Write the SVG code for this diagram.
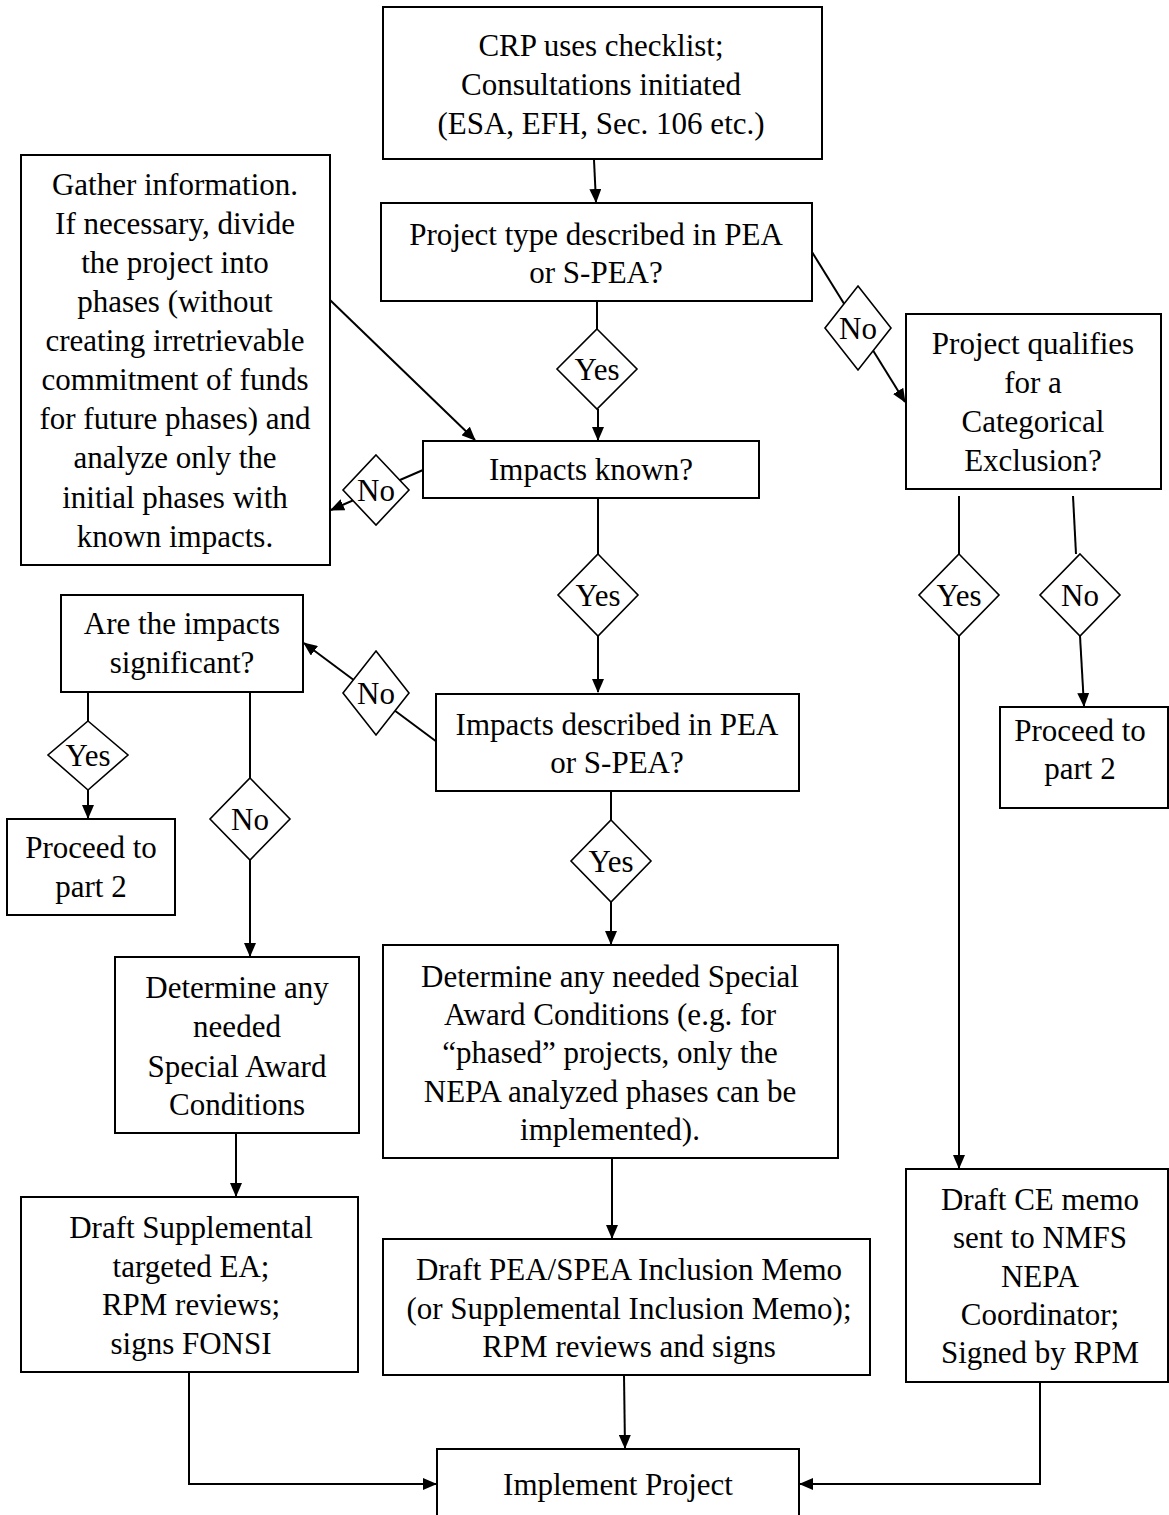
<svg xmlns="http://www.w3.org/2000/svg" width="1169" height="1515" viewBox="0 0 1169 1515">
<style>
.box{fill:#fff;stroke:#000;stroke-width:2}
.dia{fill:#fff;stroke:#000;stroke-width:1.6}
.ln{fill:none;stroke:#000;stroke-width:2}
text{font-family:"Liberation Serif","Times New Roman",serif;font-size:31px;fill:#000;text-anchor:middle}
</style>
<defs>
<marker id="ah" markerUnits="userSpaceOnUse" markerWidth="14" markerHeight="12" viewBox="0 0 14 12" refX="13" refY="6" orient="auto">
<path d="M0,0 L14,6 L0,12 z" fill="#000"/>
</marker>
</defs>
<rect width="1169" height="1515" fill="#fff"/>
<g id="connectors">
<line class="ln" x1="594" y1="160" x2="596" y2="202" marker-end="url(#ah)"/>
<line class="ln" x1="597" y1="301" x2="597" y2="330"/>
<line class="ln" x1="598" y1="409" x2="598" y2="440" marker-end="url(#ah)"/>
<line class="ln" x1="812" y1="252" x2="905" y2="402" marker-end="url(#ah)"/>
<line class="ln" x1="330" y1="300" x2="475" y2="440" marker-end="url(#ah)"/>
<line class="ln" x1="423" y1="470" x2="331" y2="510" marker-end="url(#ah)"/>
<line class="ln" x1="598" y1="498" x2="598" y2="554"/>
<line class="ln" x1="598" y1="636" x2="598" y2="692" marker-end="url(#ah)"/>
<line class="ln" x1="437" y1="742" x2="304" y2="643" marker-end="url(#ah)"/>
<line class="ln" x1="611" y1="791" x2="611" y2="820"/>
<line class="ln" x1="611" y1="902" x2="611" y2="944" marker-end="url(#ah)"/>
<line class="ln" x1="88" y1="692" x2="88" y2="721"/>
<line class="ln" x1="88" y1="790" x2="88" y2="818" marker-end="url(#ah)"/>
<line class="ln" x1="250" y1="692" x2="250" y2="778"/>
<line class="ln" x1="250" y1="860" x2="250" y2="956" marker-end="url(#ah)"/>
<line class="ln" x1="959" y1="496" x2="959" y2="554"/>
<line class="ln" x1="959" y1="636" x2="959" y2="1168" marker-end="url(#ah)"/>
<line class="ln" x1="1073" y1="496" x2="1076" y2="554"/>
<line class="ln" x1="1080" y1="636" x2="1084" y2="706" marker-end="url(#ah)"/>
<line class="ln" x1="236" y1="1133" x2="236" y2="1196" marker-end="url(#ah)"/>
<line class="ln" x1="612" y1="1158" x2="612" y2="1238" marker-end="url(#ah)"/>
<line class="ln" x1="624" y1="1375" x2="625" y2="1448" marker-end="url(#ah)"/>
<polyline class="ln" points="189,1372 189,1484 436,1484" marker-end="url(#ah)"/>
<polyline class="ln" points="1040,1382 1040,1484 800,1484" marker-end="url(#ah)"/>
</g>
<g id="n-crp">
<rect class="box" x="383" y="7" width="439" height="152"/>
<text x="601" y="56">CRP uses checklist;</text>
<text x="601" y="95">Consultations initiated</text>
<text x="601" y="134">(ESA, EFH, Sec. 106 etc.)</text>
</g>
<g id="n-ptype">
<rect class="box" x="381" y="203" width="431" height="98"/>
<text x="596" y="245">Project type described in PEA</text>
<text x="596" y="283">or S-PEA?</text>
</g>
<g id="d-yes1">
<polygon class="dia" points="597,329 637,369 597,409 557,369"/>
<text x="597" y="380">Yes</text>
</g>
<g id="d-no1">
<polygon class="dia" points="858,286 891,328 858,370 825,328"/>
<text x="858" y="339">No</text>
</g>
<g id="n-catex">
<rect class="box" x="906" y="314" width="255" height="175"/>
<text x="1033" y="354">Project qualifies</text>
<text x="1033" y="393">for a</text>
<text x="1033" y="432">Categorical</text>
<text x="1033" y="471">Exclusion?</text>
</g>
<g id="n-gather">
<rect class="box" x="21" y="155" width="309" height="410"/>
<text x="175" y="195">Gather information.</text>
<text x="175" y="234">If necessary, divide</text>
<text x="175" y="273">the project into</text>
<text x="175" y="312">phases (without</text>
<text x="175" y="351">creating irretrievable</text>
<text x="175" y="390">commitment of funds</text>
<text x="175" y="429">for future phases) and</text>
<text x="175" y="468">analyze only the</text>
<text x="175" y="508">initial phases with</text>
<text x="175" y="547">known impacts.</text>
</g>
<g id="n-known">
<rect class="box" x="423" y="441" width="336" height="57"/>
<text x="591" y="480">Impacts known?</text>
</g>
<g id="d-no2">
<polygon class="dia" points="376,455 409,490 376,525 343,490"/>
<text x="376" y="501">No</text>
</g>
<g id="d-yes2">
<polygon class="dia" points="598,554 638,595 598,636 558,595"/>
<text x="598" y="606">Yes</text>
</g>
<g id="d-yes3">
<polygon class="dia" points="959,554 999,595 959,636 919,595"/>
<text x="959" y="606">Yes</text>
</g>
<g id="d-no3">
<polygon class="dia" points="1080,554 1120,595 1080,636 1040,595"/>
<text x="1080" y="606">No</text>
</g>
<g id="n-sig">
<rect class="box" x="61" y="595" width="242" height="97"/>
<text x="182" y="634">Are the impacts</text>
<text x="182" y="673">significant?</text>
</g>
<g id="d-no4">
<polygon class="dia" points="376,651 409,693 376,735 343,693"/>
<text x="376" y="704">No</text>
</g>
<g id="n-desc">
<rect class="box" x="436" y="694" width="363" height="97"/>
<text x="617" y="735">Impacts described in PEA</text>
<text x="617" y="773">or S-PEA?</text>
</g>
<g id="n-part2r">
<rect class="box" x="1000" y="707" width="168" height="101"/>
<text x="1080" y="741">Proceed to</text>
<text x="1080" y="779">part 2</text>
</g>
<g id="d-yes4">
<polygon class="dia" points="88,721 128,755 88,790 48,755"/>
<text x="88" y="766">Yes</text>
</g>
<g id="d-no5">
<polygon class="dia" points="250,778 290,819 250,860 210,819"/>
<text x="250" y="830">No</text>
</g>
<g id="n-part2l">
<rect class="box" x="7" y="819" width="168" height="96"/>
<text x="91" y="858">Proceed to</text>
<text x="91" y="897">part 2</text>
</g>
<g id="d-yes5">
<polygon class="dia" points="611,820 651,861 611,902 571,861"/>
<text x="611" y="872">Yes</text>
</g>
<g id="n-det-left">
<rect class="box" x="115" y="957" width="244" height="176"/>
<text x="237" y="998">Determine any</text>
<text x="237" y="1037">needed</text>
<text x="237" y="1077">Special Award</text>
<text x="237" y="1115">Conditions</text>
</g>
<g id="n-det-mid">
<rect class="box" x="383" y="945" width="455" height="213"/>
<text x="610" y="987">Determine any needed Special</text>
<text x="610" y="1025">Award Conditions (e.g. for</text>
<text x="610" y="1063">“phased” projects, only the</text>
<text x="610" y="1102">NEPA analyzed phases can be</text>
<text x="610" y="1140">implemented).</text>
</g>
<g id="n-draft-sup">
<rect class="box" x="21" y="1197" width="337" height="175"/>
<text x="191" y="1238">Draft Supplemental</text>
<text x="191" y="1277">targeted EA;</text>
<text x="191" y="1315">RPM reviews;</text>
<text x="191" y="1354">signs FONSI</text>
</g>
<g id="n-draft-pea">
<rect class="box" x="383" y="1239" width="487" height="136"/>
<text x="629" y="1280">Draft PEA/SPEA Inclusion Memo</text>
<text x="629" y="1319">(or Supplemental Inclusion Memo);</text>
<text x="629" y="1357">RPM reviews and signs</text>
</g>
<g id="n-draft-ce">
<rect class="box" x="906" y="1169" width="262" height="213"/>
<text x="1040" y="1210">Draft CE memo</text>
<text x="1040" y="1248">sent to NMFS</text>
<text x="1040" y="1287">NEPA</text>
<text x="1040" y="1325">Coordinator;</text>
<text x="1040" y="1363">Signed by RPM</text>
</g>
<g id="n-implement">
<rect class="box" x="437" y="1449" width="362" height="80"/>
<text x="618" y="1495">Implement Project</text>
</g>
</svg>
